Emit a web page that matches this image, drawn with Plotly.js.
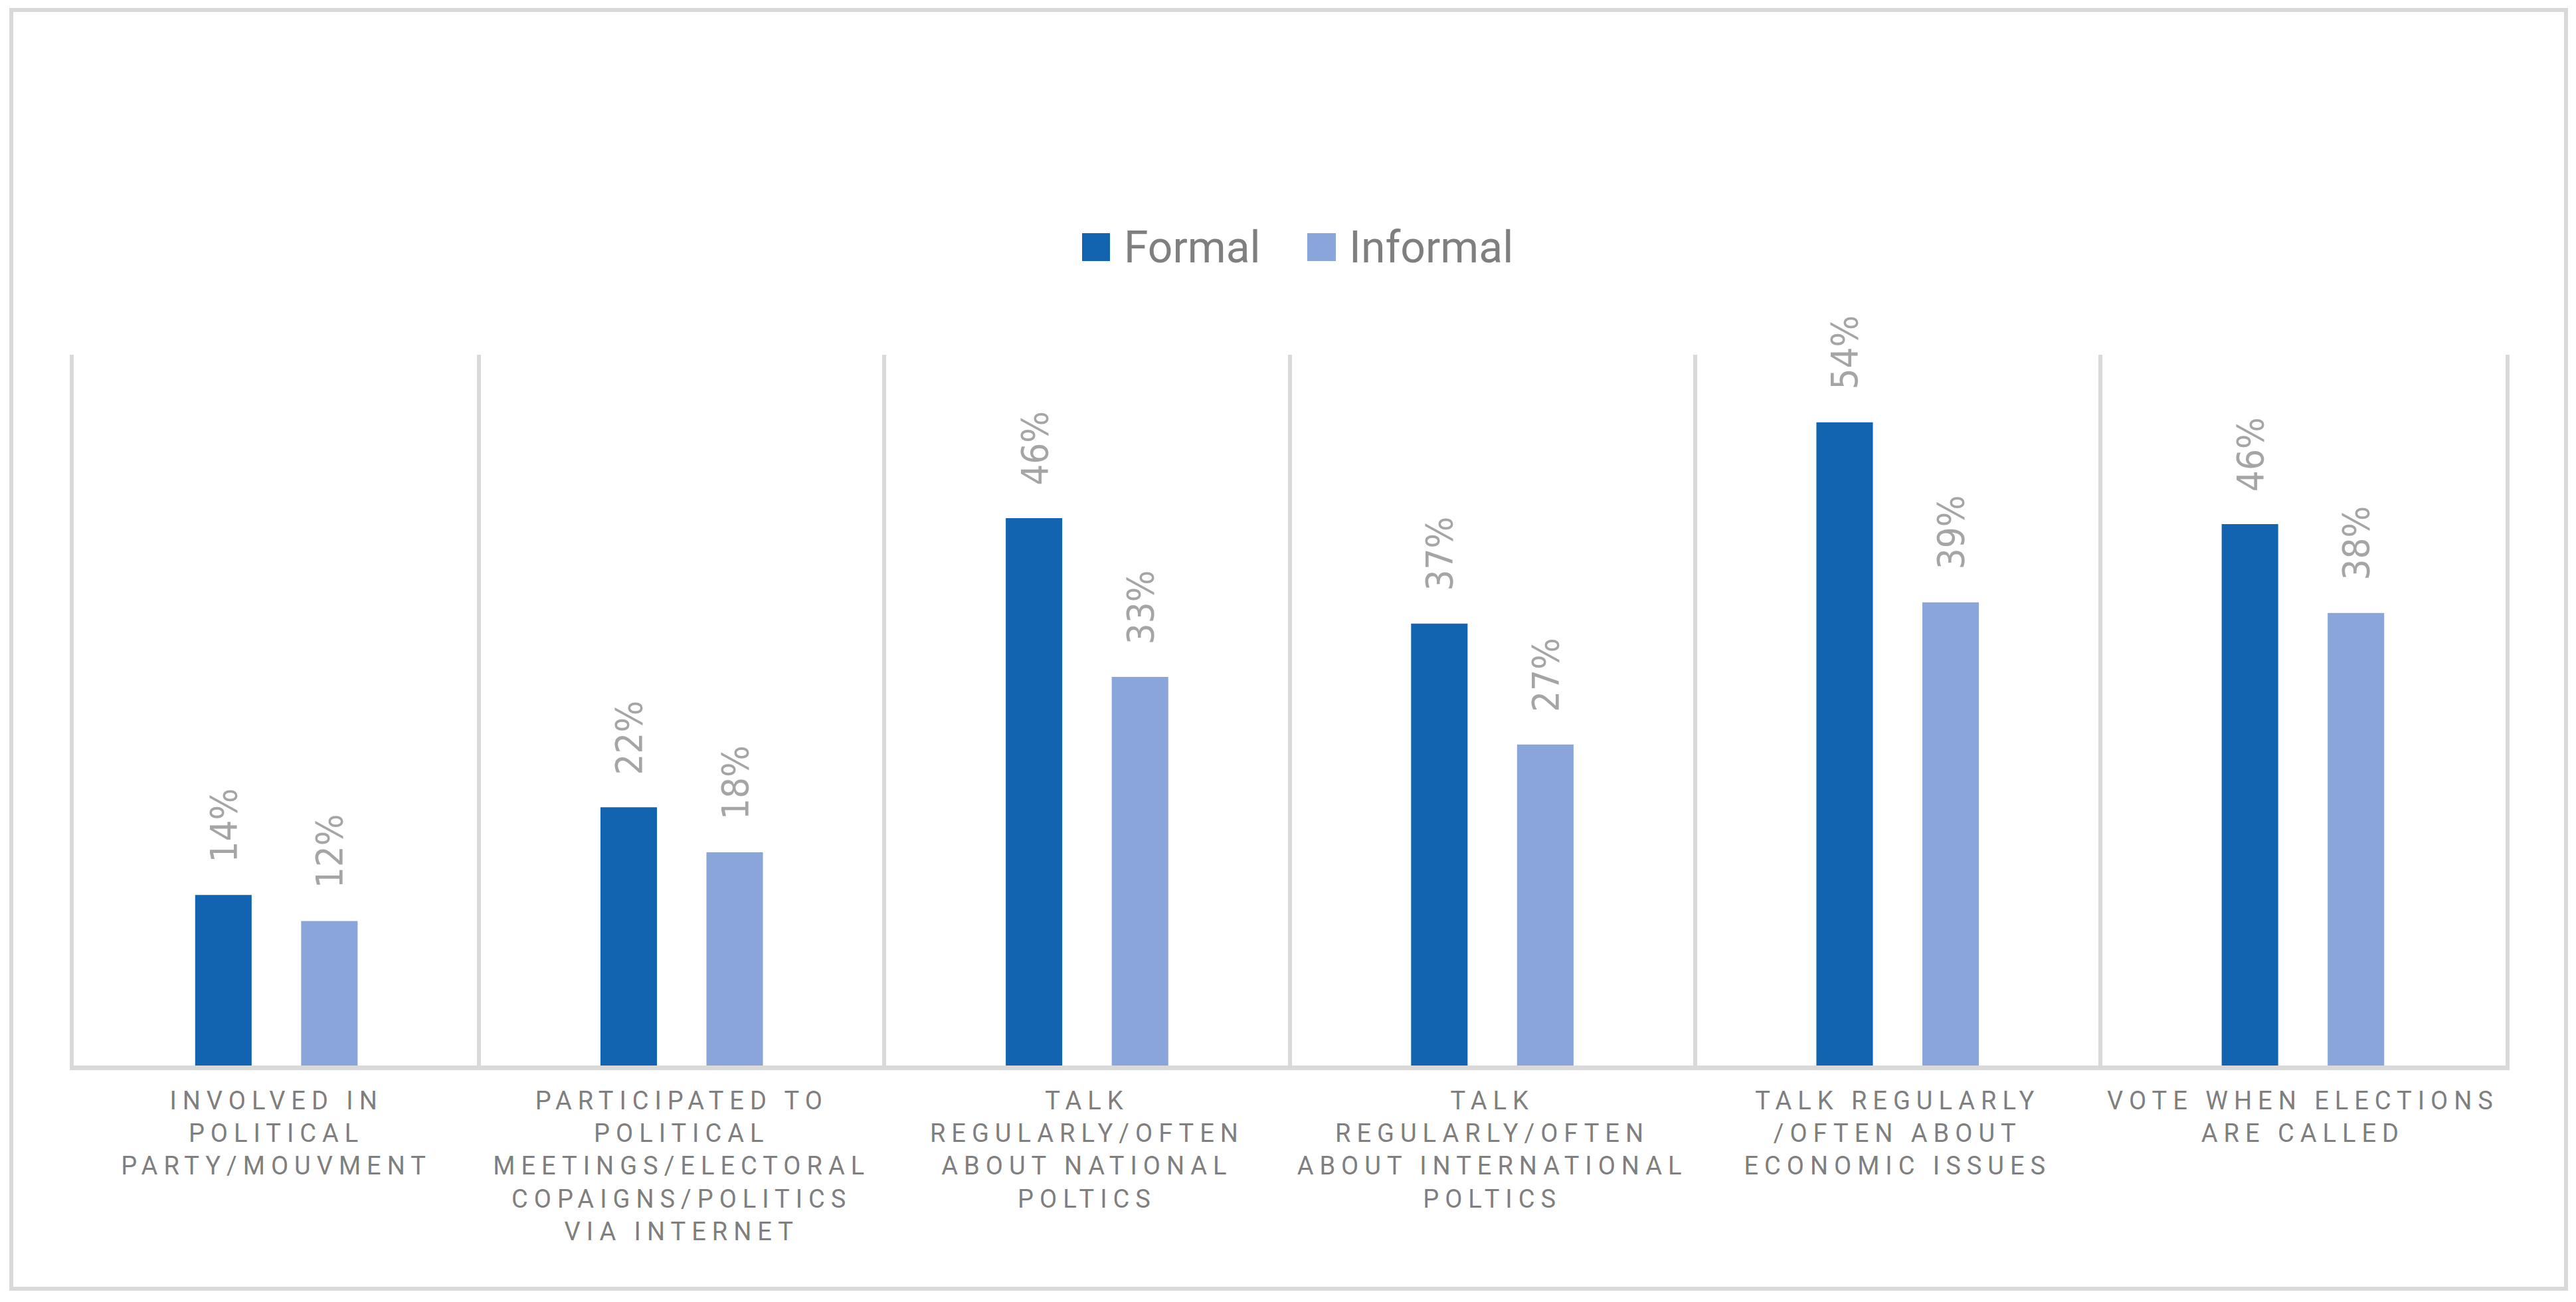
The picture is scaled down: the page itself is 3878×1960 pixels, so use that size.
<!DOCTYPE html>
<html>
<head>
<meta charset="utf-8">
<script src="https://cdn.plot.ly/plotly-3.0.1.min.js"></script>
<style>
  html, body { margin: 0; padding: 0; background: #fff; }
  #chart { width: 3878px; height: 1960px; }
  .xtick text { letter-spacing: 9px; }
</style>
</head>
<body>
<div id="chart"></div>
<script>
// categories as drawn under the axis (line breaks as in the original)
const categories = [
  'INVOLVED IN<br>POLITICAL<br>PARTY/MOUVMENT',
  'PARTICIPATED TO<br>POLITICAL<br>MEETINGS/ELECTORAL<br>COPAIGNS/POLITICS<br>VIA INTERNET',
  'TALK<br>REGULARLY/OFTEN<br>ABOUT NATIONAL<br>POLTICS',
  'TALK<br>REGULARLY/OFTEN<br>ABOUT INTERNATIONAL<br>POLTICS',
  'TALK REGULARLY<br>/OFTEN ABOUT<br>ECONOMIC ISSUES',
  'VOTE WHEN ELECTIONS<br>ARE CALLED'
];
const formal = [0.144, 0.218, 0.462, 0.373, 0.543, 0.457];
const informal = [0.122, 0.180, 0.328, 0.271, 0.391, 0.382];
const seriesNames = ['Formal', 'Informal'];
const seriesColors = ['#1264B0', '#8AA5D9'];

const W = 3878, H = 1960;
const margin = {l: 111, r: 106, t: 534, b: 356, pad: 0};
const plotW = W - margin.l - margin.r;
const plotH = H - margin.t - margin.b;
const px = x => (x - margin.l) / plotW;
const py = y => (H - margin.b - y) / plotH;

const bargap = 0.477;
const groupOffset = (1 - bargap) / 4;

const series = [formal, informal];
const traces = series.map((vals, s) => ({
  type: 'bar',
  name: seriesNames[s],
  x: categories,
  y: vals,
  marker: {color: seriesColors[s]},
  hoverinfo: 'skip'
}));

const annotations = [];
series.forEach((vals, s) => {
  vals.forEach((v, i) => {
    annotations.push({
      x: i + (s === 0 ? -groupOffset : groupOffset),
      y: v,
      xref: 'x', yref: 'y',
      text: Math.round(v * 100) + '%',
      textangle: -90,
      showarrow: false,
      xanchor: 'center', yanchor: 'bottom',
      yshift: 47,
      font: {family: 'DejaVu Sans Condensed, DejaVu Sans', size: 56, color: '#A5A5A5'}
    });
  });
});

// legend drawn by hand so the swatches match the big Excel squares
const legendItems = [
  {sq: [1629, 1671], text: 1690},
  {sq: [1968, 2011], text: 2029}
];
const shapes = [];
legendItems.forEach((it, s) => {
  shapes.push({
    type: 'rect', xref: 'paper', yref: 'paper',
    x0: px(it.sq[0]), x1: px(it.sq[1]), y0: py(393), y1: py(351),
    fillcolor: seriesColors[s], line: {width: 0}
  });
  annotations.push({
    xref: 'paper', yref: 'paper',
    x: px(it.text), y: py(372),
    xanchor: 'left', yanchor: 'middle',
    text: seriesNames[s], showarrow: false,
    font: {family: 'Roboto', size: 66, color: '#7F7F7F'}
  });
});

// outer chart border
shapes.push({
  type: 'rect', xref: 'paper', yref: 'paper',
  x0: px(17), x1: px(3863), y0: py(1940), y1: py(15),
  line: {color: '#D9D9D9', width: 6}, fillcolor: 'rgba(0,0,0,0)'
});

const layout = {
  width: W, height: H,
  margin: margin,
  paper_bgcolor: '#fff', plot_bgcolor: '#fff',
  barmode: 'group',
  bargap: bargap,
  bargroupgap: 0.467,
  showlegend: false,
  xaxis: {
    type: 'category',
    tickson: 'boundaries',
    ticks: '',
    showgrid: true, gridcolor: '#D9D9D9', gridwidth: 6,
    showline: true, linecolor: '#D9D9D9', linewidth: 7,
    ticklabelstandoff: 13,
    tickfont: {family: 'Roboto', size: 38, color: '#7F7F7F'},
    range: [-0.5, 5.5]
  },
  yaxis: {
    range: [0, 0.6],
    showticklabels: false, showgrid: false, zeroline: false,
    showline: true, mirror: true, linecolor: '#D9D9D9', linewidth: 6,
    ticks: ''
  },
  shapes: shapes,
  annotations: annotations
};

Plotly.newPlot('chart', traces, layout, {displayModeBar: false, staticPlot: true});
</script>
</body>
</html>
